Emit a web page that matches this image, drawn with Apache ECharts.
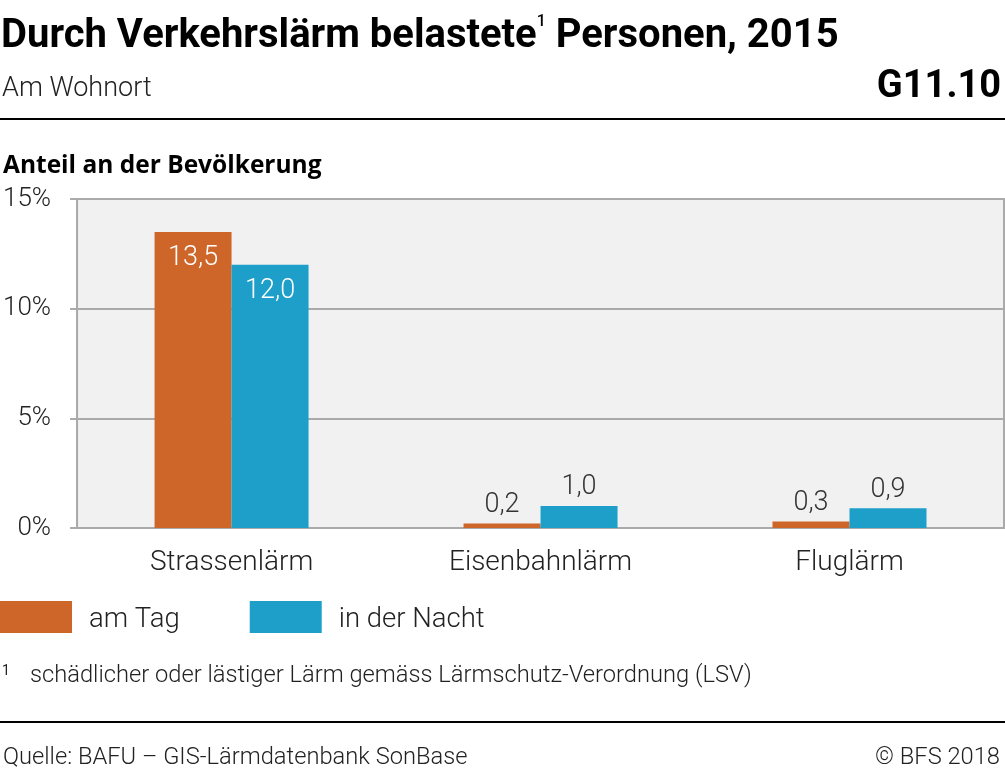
<!DOCTYPE html>
<html><head><meta charset="utf-8">
<script src="https://cdn.jsdelivr.net/npm/echarts@6/dist/echarts.min.js"></script>
<style>html,body{margin:0;padding:0;background:#fff}#c{width:1005px;height:770px}</style>
</head><body><div id="c"></div>
<script>
const categories = ['Strassenlärm', 'Eisenbahnlärm', 'Fluglärm'];
const seriesNames = ['am Tag', 'in der Nacht'];
const dayValues = [13.5, 0.2, 0.3];
const nightValues = [12.0, 1.0, 0.9];
const yTicks = [0, 5, 10, 15];

const colors = ['#cd6628', '#1d9fca'];
const fmt = v => v.toFixed(1).replace('.', ',');
function mkData(vals) {
  return vals.map(v => v > 5
    ? { value: v, label: { position: 'insideTop', distance: 13, color: '#fff' } }
    : { value: v, label: { position: 'top', distance: 5, color: '#333' } });
}
const chart = echarts.init(document.getElementById('c'), null, { renderer: 'canvas' });
chart.setOption({
  animation: false,
  textStyle: { fontFamily: 'Roboto' },
  title: {
    text: '{t|Durch Verkehrslärm belastete}{s|1}{t| Personen, 2015}',
    left: 1, top: 14, padding: 0,
    textStyle: {
      rich: {
        t: { fontFamily: 'Roboto', fontWeight: 700, fontSize: 40, color: '#000', lineHeight: 46 },
        s: { fontFamily: 'Roboto', fontWeight: 500, fontSize: 16, color: '#000', verticalAlign: 'top', lineHeight: 46, padding: [0, 0, 16, 0] }
      }
    }
  },
  graphic: [
    { type: 'text', left: 2, top: 76, style: { text: 'Am Wohnort', fontFamily: 'Roboto', fontWeight: 300, fontSize: 27, fill: '#222' } },
    { type: 'text', right: 4, top: 68, style: { text: 'G11.10', fontFamily: 'Roboto', fontWeight: 700, fontSize: 38, fill: '#000' } },
    { type: 'rect', left: 0, top: 118, shape: { width: 1005, height: 2 }, style: { fill: '#000' } },
    { type: 'text', left: 3, top: 154, style: { text: 'Anteil an der Bevölkerung', fontFamily: 'Open Sans', fontWeight: 700, fontSize: 24.5, fill: '#000' } },
    { type: 'text', left: 2, top: 664, style: { text: '1', fontFamily: 'Roboto', fontWeight: 400, fontSize: 14, fill: '#222' } },
    { type: 'text', left: 30, top: 664, style: { text: 'schädlicher oder lästiger Lärm gemäss Lärmschutz-Verordnung (LSV)', fontFamily: 'Roboto', fontWeight: 300, fontSize: 23.7, fill: '#222' } },
    { type: 'rect', left: 0, top: 721, shape: { width: 1005, height: 2 }, style: { fill: '#000' } },
    { type: 'text', left: 3, top: 746, style: { text: 'Quelle: BAFU – GIS-Lärmdatenbank SonBase', fontFamily: 'Roboto', fontWeight: 300, fontSize: 23.7, fill: '#222' } },
    { type: 'text', right: 5, top: 746, style: { text: '© BFS 2018', fontFamily: 'Roboto', fontWeight: 300, fontSize: 23.7, fill: '#222' } }
  ],
  legend: {
    data: seriesNames,
    left: 0, top: 601, padding: 0,
    itemWidth: 72, itemHeight: 32, itemGap: 70,
    icon: 'rect',
    formatter: '{a|{name}}',
    textStyle: {
      fontFamily: 'Roboto', fontWeight: 300, fontSize: 27.5, color: '#222',
      rich: { a: { fontFamily: 'Roboto', fontWeight: 300, fontSize: 27.5, color: '#222', padding: [6, 0, 0, 12] } }
    }
  },
  grid: {
    left: 76, right: 1, top: 199, bottom: 242,
    show: true, backgroundColor: '#f1f1f1', borderColor: '#aaa', borderWidth: 2
  },
  xAxis: {
    type: 'category', data: categories,
    axisLine: { lineStyle: { color: '#aaa', width: 2 } },
    axisTick: { show: false },
    axisLabel: { fontFamily: 'Roboto', fontWeight: 300, fontSize: 28, color: '#222', margin: 21 }
  },
  yAxis: {
    type: 'value', min: yTicks[0], max: yTicks[yTicks.length - 1], interval: 5,
    axisLine: { show: true, lineStyle: { color: '#aaa', width: 2 } },
    axisTick: { show: true, length: 7, lineStyle: { color: '#aaa', width: 2 } },
    splitLine: { lineStyle: { color: '#aaa', width: 2 } },
    axisLabel: { formatter: '{value}%', fontFamily: 'Roboto', fontWeight: 300, fontSize: 26, color: '#222', margin: 26 }
  },
  series: [
    { name: seriesNames[0], type: 'bar', data: mkData(dayValues), barWidth: 77, barGap: '0%',
      itemStyle: { color: colors[0] },
      label: { show: true, formatter: p => fmt(p.value), fontFamily: 'Roboto', fontWeight: 300, fontSize: 27 } },
    { name: seriesNames[1], type: 'bar', data: mkData(nightValues), barWidth: 77, barGap: '0%',
      itemStyle: { color: colors[1] },
      label: { show: true, formatter: p => fmt(p.value), fontFamily: 'Roboto', fontWeight: 300, fontSize: 27 } }
  ]
});
</script></body></html>
